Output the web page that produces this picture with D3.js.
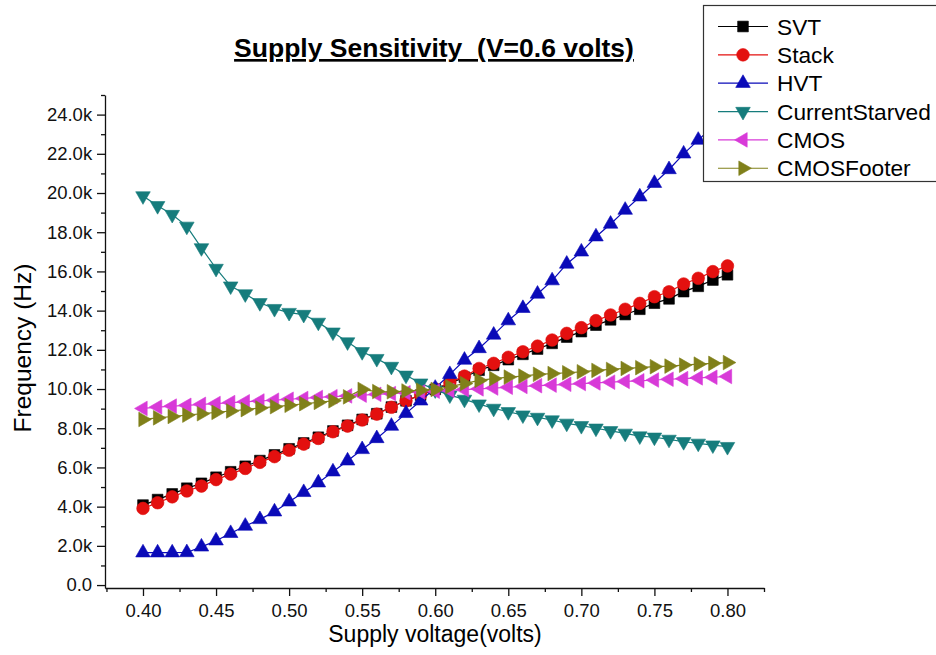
<!DOCTYPE html>
<html>
<head>
<meta charset="utf-8">
<script src="https://cdn.jsdelivr.net/npm/d3@7/dist/d3.min.js"></script>
<style>
  html, body { margin: 0; padding: 0; background: #fff; }
  svg { display: block; font-family: "Liberation Sans", Arial, sans-serif; }
</style>
</head>
<body>
<svg id="chart" width="936" height="655"></svg>
<script>
// Supply voltage sweep (V)
const voltage = [0.40, 0.41, 0.42, 0.43, 0.44, 0.45, 0.46, 0.47, 0.48, 0.49,
                 0.50, 0.51, 0.52, 0.53, 0.54, 0.55, 0.56, 0.57, 0.58, 0.59,
                 0.60, 0.61, 0.62, 0.63, 0.64, 0.65, 0.66, 0.67, 0.68, 0.69,
                 0.70, 0.71, 0.72, 0.73, 0.74, 0.75, 0.76, 0.77, 0.78, 0.79, 0.80];

// Oscillation frequency per topology, in kHz
const svt = [4.08, 4.36, 4.65, 4.94, 5.19, 5.50, 5.78, 6.06, 6.35, 6.64,
             6.95, 7.25, 7.54, 7.86, 8.15, 8.45, 8.74, 9.08, 9.40, 9.69,
             9.98, 10.29, 10.60, 10.96, 11.21, 11.50, 11.77, 12.04, 12.33, 12.65,
             12.93, 13.26, 13.53, 13.80, 14.07, 14.38, 14.60, 14.97, 15.24, 15.56, 15.83];
const stack = [3.91, 4.20, 4.50, 4.80, 5.05, 5.38, 5.66, 5.95, 6.26, 6.55,
               6.88, 7.19, 7.48, 7.82, 8.11, 8.42, 8.72, 9.07, 9.40, 9.70,
               10.00, 10.33, 10.66, 11.05, 11.31, 11.62, 11.90, 12.19, 12.50, 12.84,
               13.13, 13.49, 13.78, 14.07, 14.37, 14.71, 14.96, 15.36, 15.65, 15.99, 16.28];
const hvt = [1.65, 1.65, 1.65, 1.66, 1.95, 2.26, 2.64, 3.01, 3.35, 3.74,
             4.25, 4.73, 5.22, 5.78, 6.34, 6.92, 7.48, 8.11, 8.76, 9.40,
             10.05, 10.75, 11.48, 12.07, 12.76, 13.49, 14.12, 14.85, 15.53, 16.38,
             17.00, 17.77, 18.42, 19.13, 19.81, 20.50, 21.20, 22.00, 22.70, 23.40, 24.10];
const currentStarved = [19.85, 19.35, 18.90, 18.30, 17.20, 16.15, 15.25, 14.85, 14.40, 14.10,
                        13.90, 13.80, 13.40, 12.90, 12.40, 11.90, 11.55, 11.15, 10.70, 10.30,
                        9.95, 9.69, 9.47, 9.23, 9.01, 8.84, 8.67, 8.55, 8.42, 8.25,
                        8.13, 8.00, 7.87, 7.74, 7.60, 7.54, 7.43, 7.31, 7.23, 7.14, 7.06];
const cmos = [9.01, 9.08, 9.13, 9.17, 9.22, 9.26, 9.31, 9.35, 9.39, 9.43,
              9.48, 9.52, 9.57, 9.61, 9.65, 9.69, 9.73, 9.77, 9.81, 9.85,
              9.89, 9.93, 9.97, 10.01, 10.05, 10.09, 10.13, 10.17, 10.20, 10.24,
              10.28, 10.31, 10.35, 10.39, 10.42, 10.46, 10.50, 10.53, 10.57, 10.60, 10.64];
const cmosFooter = [8.45, 8.53, 8.60, 8.67, 8.74, 8.81, 8.88, 8.95, 9.03, 9.10,
                    9.17, 9.25, 9.32, 9.40, 9.60, 9.98, 9.87, 9.86, 9.90, 9.94,
                    9.98, 10.12, 10.28, 10.44, 10.53, 10.61, 10.66, 10.75, 10.79, 10.83,
                    10.88, 10.95, 11.00, 11.05, 11.09, 11.14, 11.17, 11.22, 11.27, 11.31, 11.35];

const seriesNames = ["SVT", "Stack", "HVT", "CurrentStarved", "CMOS", "CMOSFooter"];
const seriesValues = [svt, stack, hvt, currentStarved, cmos, cmosFooter];

const xTicks = [0.40, 0.45, 0.50, 0.55, 0.60, 0.65, 0.70, 0.75, 0.80];
const yTicks = [0, 2000, 4000, 6000, 8000, 10000, 12000, 14000, 16000, 18000, 20000, 22000, 24000];

// Marker style per series
const styles = [
  { color: "#000000", line: "#000000", shape: d3.symbolSquare,   size: 115, rot: 0 },
  { color: "#e3100f", line: "#e3100f", shape: d3.symbolCircle,   size: 125, rot: 0 },
  { color: "#0a0ab8", line: "#0a0ab8", shape: d3.symbolTriangle, size: 92,  rot: 0 },
  { color: "#167c7c", line: "#167c7c", shape: d3.symbolTriangle, size: 92,  rot: 180 },
  { color: "#d83ad8", line: "#d83ad8", shape: d3.symbolTriangle, size: 92,  rot: -90 },
  { color: "#80801a", line: "#80801a", shape: d3.symbolTriangle, size: 92,  rot: 90 }
];

const svg = d3.select("#chart");

const x = d3.scaleLinear().domain([0.374, 0.825]).range([105, 764]);
const y = d3.scaleLinear().domain([-150, 25000]).range([588, 95]);

// Title
svg.append("text")
  .attr("x", 434).attr("y", 57)
  .attr("text-anchor", "middle")
  .attr("font-size", 26.5).attr("font-weight", "bold")
  .style("text-decoration", "underline")
  .attr("xml:space", "preserve")
  .text("Supply Sensitivity  (V=0.6 volts)");

// Axes
const xAxis = d3.axisBottom(x)
  .tickValues(xTicks)
  .tickFormat(d3.format(".2f"))
  .tickSize(8).tickSizeOuter(0);
const xMinor = d3.axisBottom(x)
  .tickValues(d3.range(0.375, 0.826, 0.05))
  .tickFormat("")
  .tickSize(4).tickSizeOuter(0);

const gx = svg.append("g").attr("transform", `translate(0,${y(-150)})`).call(xAxis);
svg.append("g").attr("transform", `translate(0,${y(-150)})`).call(xMinor).select(".domain").remove();

const yAxis = d3.axisLeft(y)
  .tickValues(yTicks)
  .tickFormat(d => d === 0 ? "0.0" : (d / 1000).toFixed(1) + "k")
  .tickSize(8).tickSizeOuter(0);
const yMinor = d3.axisLeft(y)
  .tickValues(d3.range(1000, 25001, 2000))
  .tickFormat("")
  .tickSize(4).tickSizeOuter(0);

const gy = svg.append("g").attr("transform", `translate(${x(0.374)},0)`).call(yAxis);
svg.append("g").attr("transform", `translate(${x(0.374)},0)`).call(yMinor).select(".domain").remove();

svg.selectAll(".domain, .tick line").attr("stroke", "#111").attr("stroke-width", 1.3);
gx.selectAll(".tick text").attr("font-size", 18.5).attr("dy", "0.95em").attr("fill", "#111")
  .attr("font-family", "Liberation Sans, Arial, sans-serif");
gy.selectAll(".tick text").attr("font-size", 18.5).attr("dx", "-0.1em").attr("fill", "#111")
  .attr("font-family", "Liberation Sans, Arial, sans-serif");

// Axis titles
svg.append("text")
  .attr("x", 435).attr("y", 642)
  .attr("text-anchor", "middle")
  .attr("font-size", 23)
  .text("Supply voltage(volts)");
svg.append("text")
  .attr("transform", "translate(31,348) rotate(-90)")
  .attr("text-anchor", "middle")
  .attr("font-size", 24.5)
  .text("Frequency (Hz)");

// Series: connecting line then markers
const line = d3.line().x((d, i) => x(voltage[i])).y(d => y(d * 1000));

seriesValues.forEach((vals, s) => {
  const st = styles[s];
  const g = svg.append("g").attr("class", "series");
  g.append("path")
    .attr("d", line(vals))
    .attr("fill", "none")
    .attr("stroke", st.line)
    .attr("stroke-width", 1.2);
  const sym = d3.symbol().type(st.shape).size(st.size);
  g.selectAll("path.mk").data(vals).join("path")
    .attr("class", "mk")
    .attr("d", sym)
    .attr("transform", (d, i) => `translate(${x(voltage[i])},${y(d * 1000)}) rotate(${st.rot})`)
    .attr("fill", st.color)
    .attr("stroke", st.color)
    .attr("stroke-width", 0.6);
});

// Legend
const legend = svg.append("g");
legend.append("rect")
  .attr("x", 703.5).attr("y", 5.5)
  .attr("width", 260).attr("height", 176)
  .attr("fill", "#fff")
  .attr("stroke", "#333").attr("stroke-width", 1.2);

seriesNames.forEach((name, s) => {
  const st = styles[s];
  const cy = 26.5 + s * 28.35;
  legend.append("line")
    .attr("x1", 718).attr("x2", 768)
    .attr("y1", cy).attr("y2", cy)
    .attr("stroke", st.line).attr("stroke-width", 1.2);
  legend.append("path")
    .attr("d", d3.symbol().type(st.shape).size(st.size)())
    .attr("transform", `translate(743,${cy}) rotate(${st.rot})`)
    .attr("fill", st.color).attr("stroke", st.color).attr("stroke-width", 0.6);
  legend.append("text")
    .attr("x", 777).attr("y", cy + 8)
    .attr("font-size", 22.7)
    .text(name);
});
</script>
</body>
</html>
